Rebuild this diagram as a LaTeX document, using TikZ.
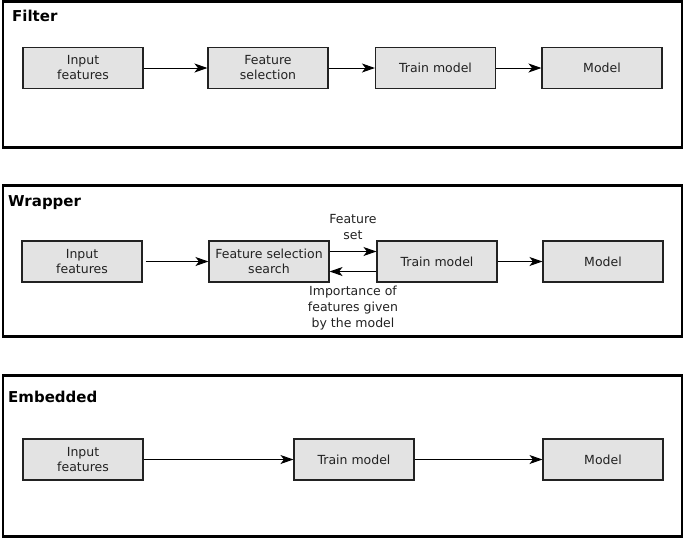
\documentclass[tikz,border=0pt]{standalone}
\usepackage{fontspec}
\setmainfont{DejaVu Sans}
\usepackage{tikz}
\usetikzlibrary{
  arrows.meta,
  positioning,
}
\definecolor{boxgray}{RGB}{227, 227, 227}
\definecolor{inkgray}{RGB}{34, 34, 34}
\tikzstyle{arrow} = [
  -{Stealth[length=13pt,width=9pt,inset=3.5pt]},
  line width=1pt,
  black,
]
\tikzstyle{stage} = [
  draw=inkgray,
  line width=1.1pt,
  fill=boxgray,
  text=inkgray,
  minimum width=120pt,
  minimum height=41pt,
  inner sep=2pt,
  align=center,
  font=\fontsize{12.5}{15}\selectfont,
]
\tikzstyle{frame} = [
  draw,
  line width=2.5pt,
]
\tikzstyle{title} = [
  anchor=west,
  inner sep=0pt,
  font=\fontsize{15}{17}\selectfont\bfseries,
]
\tikzstyle{note} = [
  align=center,
  inner sep=1pt,
  text=inkgray,
  font=\fontsize{12.5}{16}\selectfont,
]

\begin{document}
\begin{tikzpicture}[x=1pt, y=-1pt]

        \useasboundingbox (0,0) rectangle (685,539);

        % Filter
        \draw [frame] (3,1.5) rectangle (682,147.5);
        \node [title] (filtertitle) at (12,15.5) {Filter};

        \node [stage] (fin)    at (83,68)    {Input\\features};
        \node [stage] (fsel)   at (268,68)   {Feature\\selection};
        \node [stage] (ftrain) at (435.5,68) {Train model};
        \node [stage] (fmodel) at (602,68)   {Model};

        \draw [arrow] (fin) -- (fsel);
        \draw [arrow] (fsel) -- (ftrain);
        \draw [arrow] (ftrain) -- (fmodel);

        % Wrapper
        \draw [frame] (3,185.5) rectangle (682,336.5);
        \node [title] (wraptitle) at (8,203) {Wrapper};

        \node [stage] (win)    at (82,261.5)  {Input\\features};
        \node [stage] (wsearch) at (269,261.5) {Feature selection\\search};
        \node [stage] (wtrain) at (437,261.5) {Train model};
        \node [stage] (wmodel) at (603,261.5) {Model};

        \draw [arrow] ([xshift=3pt]win.east) -- (wsearch);
        \draw [arrow] ([yshift=10pt]wsearch.east) -- ([yshift=10pt]wtrain.west)
              node [note, midway, anchor=south, yshift=10pt] (wsetlbl) {Feature\\set};
        \draw [arrow] ([yshift=-10pt]wtrain.west) -- ([yshift=-10pt]wsearch.east)
              node [note, midway, anchor=north, yshift=-13pt] (wimplbl)
              {Importance of\\features given\\by the model};
        \draw [arrow] (wtrain) -- (wmodel);

        % Embedded
        \draw [frame] (3,375.5) rectangle (682,536.5);
        \node [title] (embtitle) at (8,397) {Embedded};

        \node [stage] (ein)    at (83,459.5)  {Input\\features};
        \node [stage] (etrain) at (354,459.5) {Train model};
        \node [stage] (emodel) at (603,459.5) {Model};

        \draw [arrow] (ein) -- (etrain);
        \draw [arrow] (etrain) -- (emodel);
      \end{tikzpicture}
\end{document}
